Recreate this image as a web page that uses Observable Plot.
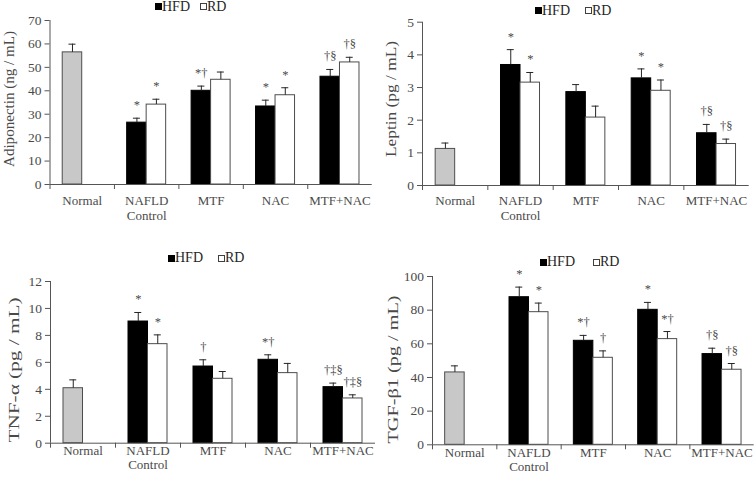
<!DOCTYPE html>
<html>
<head>
<meta charset="utf-8">
<script src="https://cdn.jsdelivr.net/npm/d3@7"></script>
<script src="https://cdn.jsdelivr.net/npm/@observablehq/plot@0.6"></script>
<style>
  body { margin: 0; background: #fff; }
  #wrap { position: relative; width: 755px; height: 482px; overflow: hidden; font-family: "Liberation Serif", "Times New Roman", "DejaVu Serif", serif; }
  .panel { position: absolute; }
  .legend { position: absolute; display: flex; align-items: center; font-family: "Liberation Serif", "Times New Roman", serif; font-size: 14px; color: #262626; line-height: 14px; white-space: nowrap; }
  .sw { display: inline-block; width: 7px; height: 7px; box-sizing: border-box; }
</style>
</head>
<body>
<div id="wrap"></div>
<script>
// ---------- data ----------
const categories = ["Normal", "NAFLD\nControl", "MTF", "NAC", "MTF+NAC"];
const treatedGroups = categories.slice(1);
const seriesNames = ["HFD", "RD"];

// Adiponectin (ng / mL)
const adipoNormal = 56.4, adipoNormalErr = 3.5;
const adipoHFD = [26.4, 40.0, 33.3, 46.0];
const adipoHFDErr = [1.9, 2.0, 2.7, 3.1];
const adipoRD = [34.1, 44.7, 38.1, 52.1];
const adipoRDErr = [2.3, 3.3, 3.2, 2.2];
const adipoHFDSig = ["*", "*†", "*", "†§"];
const adipoRDSig = ["*", "", "*", "†§"];
const adipoTicks = [0, 10, 20, 30, 40, 50, 60, 70];

// Leptin (pg / mL)
const leptinNormal = 1.12, leptinNormalErr = 0.18;
const leptinHFD = [3.69, 2.86, 3.28, 1.60];
const leptinHFDErr = [0.47, 0.23, 0.29, 0.27];
const leptinRD = [3.15, 2.08, 2.90, 1.27];
const leptinRDErr = [0.31, 0.35, 0.33, 0.15];
const leptinHFDSig = ["*", "", "*", "†§"];
const leptinRDSig = ["*", "", "*", "†§"];
const leptinTicks = [0, 1, 2, 3, 4, 5];

// TNF-α (pg / mL)
const tnfNormal = 4.08, tnfNormalErr = 0.62;
const tnfHFD = [9.03, 5.69, 6.19, 4.16];
const tnfHFDErr = [0.67, 0.50, 0.37, 0.30];
const tnfRD = [7.35, 4.78, 5.20, 3.32];
const tnfRDErr = [0.69, 0.54, 0.72, 0.27];
const tnfHFDSig = ["*", "†", "*†", "†‡§"];
const tnfRDSig = ["*", "", "", "†‡§"];
const tnfTicks = [0, 2, 4, 6, 8, 10, 12];

// TGF-β1 (pg / mL)
const tgfNormal = 43.0, tgfNormalErr = 3.9;
const tgfHFD = [87.7, 61.8, 80.2, 53.9];
const tgfHFDErr = [6.0, 3.2, 4.4, 3.5];
const tgfRD = [78.8, 51.7, 62.8, 44.6];
const tgfRDErr = [5.4, 4.1, 4.5, 3.7];
const tgfHFDSig = ["*", "*†", "*", "†§"];
const tgfRDSig = ["*", "†", "*†", "†§"];
const tgfTicks = [0, 20, 40, 60, 80, 100];

// ---------- drawing ----------
const wrap = document.getElementById("wrap");
const axisColor = "#555555";
const textColor = "#4a4a4a";
const fontFamily = "'Liberation Serif', 'Times New Roman', serif";
const barW = 19.5;

function panel(o) {
  const rows = [{cat: categories[0], series: "Normal", value: o.normal, err: o.normalErr, sig: ""}];
  treatedGroups.forEach((c, i) => {
    rows.push({cat: c, series: seriesNames[0], value: o.hfd[i], err: o.hfdErr[i], sig: o.hfdSig[i]});
    rows.push({cat: c, series: seriesNames[1], value: o.rd[i], err: o.rdErr[i], sig: o.rdSig[i]});
  });
  const normalRows = rows.filter(d => d.series === "Normal");
  const hfdRows = rows.filter(d => d.series === "HFD");
  const rdRows = rows.filter(d => d.series === "RD");
  const leftRows = rows.filter(d => d.series !== "RD");
  const bw = (o.width - o.ml - o.mr) / categories.length;
  const top = d => d.value + d.err;
  const plotMid = o.mt + (o.height - o.mt - o.mb) / 2;

  const errMarks = (S, dx) => [
    Plot.ruleX(S, {x: "cat", y1: "value", y2: top, dx, stroke: "#262626", strokeWidth: 1}),
    Plot.tickY(S, {x: "cat", y: top, insetLeft: bw / 2 + dx - 3.5, insetRight: bw / 2 - dx - 3.5, stroke: "#262626", strokeWidth: 1}),
    Plot.text(S.filter(d => d.sig), {x: "cat", y: top, text: "sig", dx, dy: -13, fontSize: 12.5, fontFamily, fill: textColor})
  ];

  const svg = Plot.plot({
    width: o.width,
    height: o.height,
    marginLeft: o.ml, marginRight: o.mr, marginTop: o.mt, marginBottom: o.mb,
    style: {fontFamily, fontSize: "13px", color: textColor, background: "transparent", overflow: "visible"},
    x: {domain: categories, padding: 0, round: false, axis: null},
    y: {domain: [0, o.yMax], axis: null},
    marks: [
      Plot.barY(normalRows, {x: "cat", y: "value", fill: "#c8c8c8", stroke: "#4d4d4d", strokeWidth: 1, insetLeft: bw / 2 - barW, insetRight: bw / 2}),
      Plot.barY(hfdRows, {x: "cat", y: "value", fill: "#000", stroke: "#000", strokeWidth: 1, insetLeft: bw / 2 - barW, insetRight: bw / 2}),
      Plot.barY(rdRows, {x: "cat", y: "value", fill: "#fff", stroke: "#4d4d4d", strokeWidth: 1, insetLeft: bw / 2, insetRight: bw / 2 - barW}),
      ...errMarks(leftRows, -barW / 2),
      ...errMarks(rdRows, barW / 2),
      Plot.ruleY([0], {stroke: axisColor}),
      Plot.ruleX([categories[0]], {x: d => d, y1: 0, y2: o.yMax, dx: -bw / 2, stroke: axisColor}),
      Plot.ruleX(categories, {x: d => d, y1: 0, y2: 0, dx: -bw / 2, insetBottom: -5, stroke: axisColor}),
      Plot.axisY({ticks: o.ticks, tickFormat: d => String(d), tickSize: 5, tickPadding: 3.5, label: null, stroke: axisColor, fill: textColor, fontSize: 13.5, fontFamily}),
      Plot.axisX({tickSize: 0, tickPadding: o.labelPad, label: null, lineHeight: 1.08, fill: textColor, fontSize: 13, fontFamily}),
      Plot.text([o.title], {frameAnchor: "left", rotate: -90, text: d => d, dx: o.titleX - o.ml, dy: o.titleY - plotMid, fontSize: 14, fontFamily, fill: textColor, textAnchor: "middle"})
    ]
  });

  // the reference's axis titles are drawn stretched along their length
  for (const t of svg.querySelectorAll("text")) {
    if (t.textContent === o.title) {
      t.setAttribute("textLength", o.titleLen);
      t.setAttribute("lengthAdjust", "spacingAndGlyphs");
    }
  }

  const div = document.createElement("div");
  div.className = "panel";
  div.style.left = o.left + "px";
  div.style.top = o.top + "px";
  div.appendChild(svg);
  wrap.appendChild(div);

  const lg = document.createElement("div");
  lg.className = "legend";
  lg.style.left = (o.left + o.legBlack) + "px";
  lg.style.top = (o.top + o.legCy - 7) + "px";
  const gap = o.legWhite - o.legBlack - 7 - 28;
  lg.innerHTML =
    `<span class="sw" style="background:#000"></span><span style="width:28px">${seriesNames[0]}</span>` +
    `<span class="sw" style="background:#fff;border:1px solid #404040;margin-left:${gap}px"></span><span>${seriesNames[1]}</span>`;
  wrap.appendChild(lg);
}

panel({left: 0, top: 0, width: 377, height: 241, ml: 49.5, mr: 5.3, mt: 20, mb: 57, yMax: 70, ticks: adipoTicks,
  normal: adipoNormal, normalErr: adipoNormalErr, hfd: adipoHFD, hfdErr: adipoHFDErr, rd: adipoRD, rdErr: adipoRDErr,
  hfdSig: adipoHFDSig, rdSig: adipoRDSig, labelPad: 11, title: "Adiponectin (ng / mL)", titleX: 9, titleY: 98.5, titleLen: 136,
  legBlack: 155, legWhite: 200, legCy: 6.5});

panel({left: 377, top: 0, width: 378, height: 241, ml: 45, mr: 6.3, mt: 21.7, mb: 56, yMax: 5, ticks: leptinTicks,
  normal: leptinNormal, normalErr: leptinNormalErr, hfd: leptinHFD, hfdErr: leptinHFDErr, rd: leptinRD, rdErr: leptinRDErr,
  hfdSig: leptinHFDSig, rdSig: leptinRDSig, labelPad: 10, title: "Leptin (pg / mL)", titleX: 14, titleY: 98.5, titleLen: 116,
  legBlack: 158, legWhite: 208, legCy: 10.5});

panel({left: 0, top: 241, width: 377, height: 241, ml: 50, mr: 2, mt: 40, mb: 39.3, yMax: 12, ticks: tnfTicks,
  normal: tnfNormal, normalErr: tnfNormalErr, hfd: tnfHFD, hfdErr: tnfHFDErr, rd: tnfRD, rdErr: tnfRDErr,
  hfdSig: tnfHFDSig, rdSig: tnfRDSig, labelPad: 2, title: "TNF-α (pg / mL)", titleX: 14.5, titleY: 128.5, titleLen: 145,
  legBlack: 168, legWhite: 218, legCy: 17});

panel({left: 377, top: 241, width: 378, height: 241, ml: 55, mr: 1.3, mt: 35, mb: 37.7, yMax: 100, ticks: tgfTicks,
  normal: tgfNormal, normalErr: tgfNormalErr, hfd: tgfHFD, hfdErr: tgfHFDErr, rd: tgfRD, rdErr: tgfRDErr,
  hfdSig: tgfHFDSig, rdSig: tgfRDSig, labelPad: 2, title: "TGF-β1 (pg / mL)", titleX: 16.5, titleY: 128, titleLen: 148,
  legBlack: 163, legWhite: 216, legCy: 21});
</script>
</body>
</html>
